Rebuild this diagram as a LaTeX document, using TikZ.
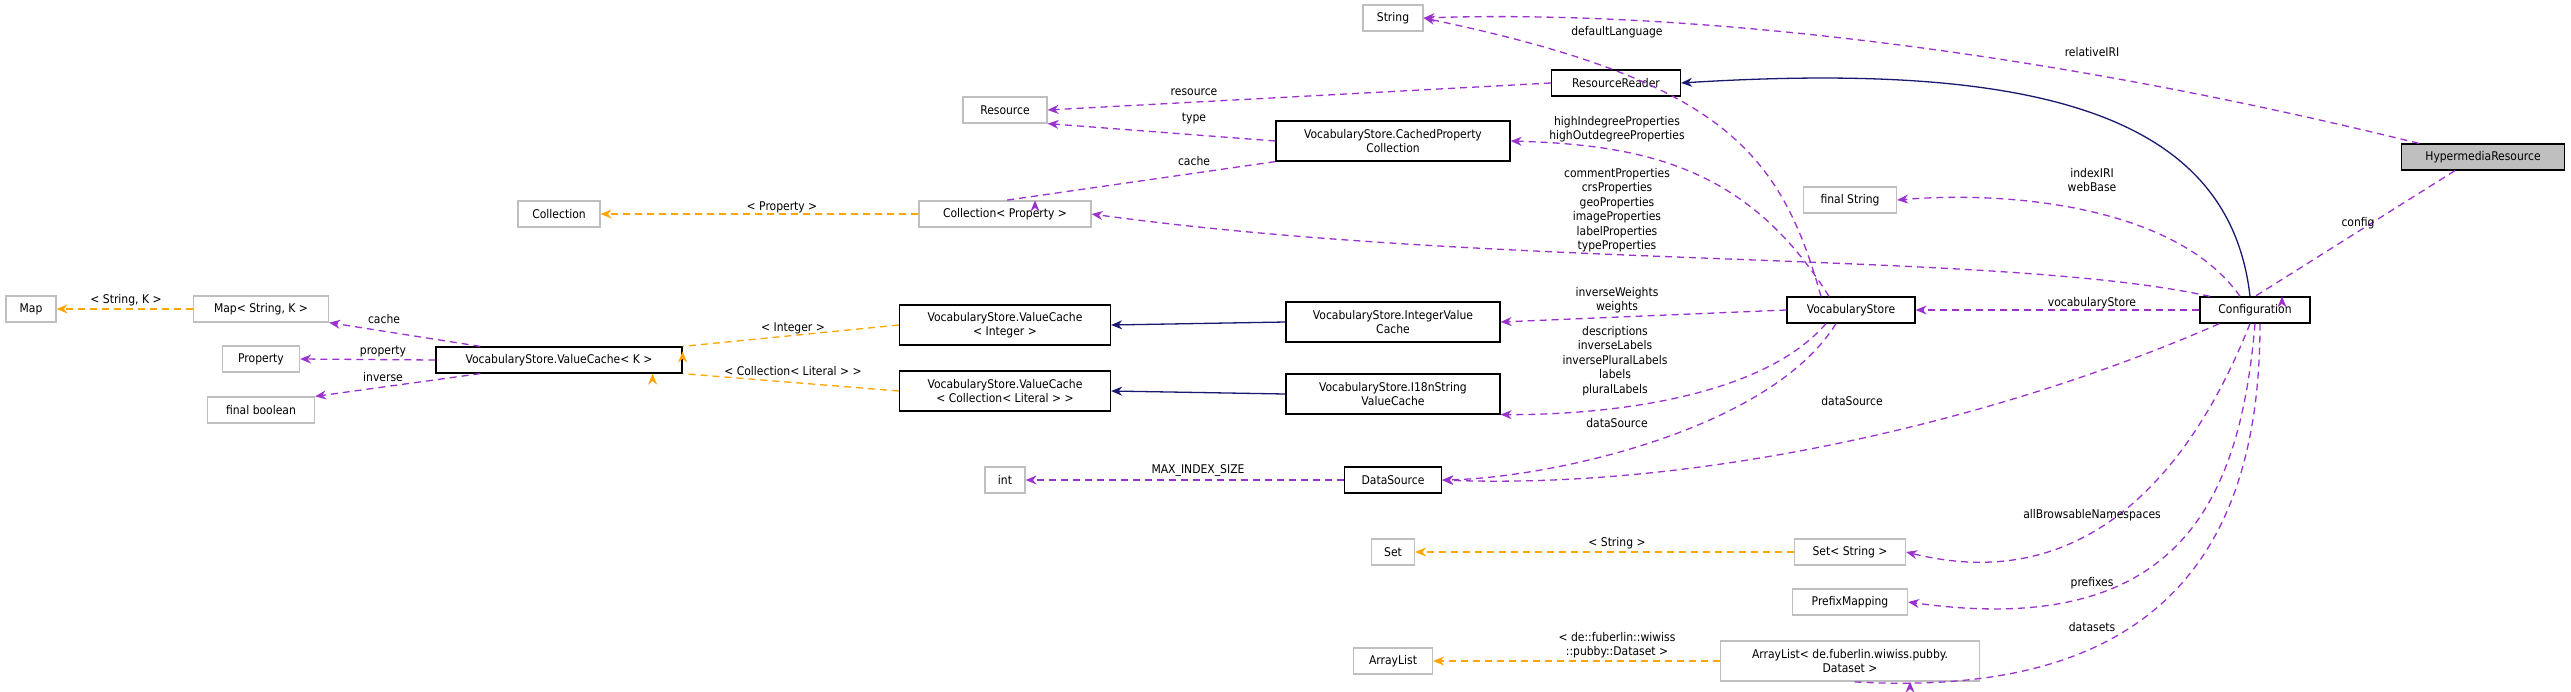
\documentclass[tikz,border=0pt]{standalone}
\usepackage{fontspec}
\setmainfont{DejaVu Sans Condensed}
\usetikzlibrary{arrows.meta}
\definecolor{pur}{HTML}{9A32CD}
\definecolor{org}{HTML}{FFA500}
\definecolor{nav}{HTML}{191970}
\definecolor{gbd}{HTML}{BFBFBF}
\begin{document}
\begin{tikzpicture}[x=1pt,y=-1pt,
 every node/.style={font=\fontsize{12}{14.5}\selectfont},
 box/.style={draw=black,line width=1.2pt,minimum height=26,inner sep=0,align=center},
 gbox/.style={draw=gbd,line width=1.2pt,minimum height=26,inner sep=0,align=center},
 two/.style={minimum height=40},
 mem/.style={pur,dash pattern=on 7pt off 5pt,line width=1.3pt,-{Stealth[length=11pt,width=9pt]}},
 tpl/.style={org,dash pattern=on 7pt off 5pt,line width=1.3pt,-{Stealth[length=11pt,width=9pt]}},
 inh/.style={nav,line width=1.3pt,-{Stealth[length=11pt,width=9pt]}},
 lbl/.style={text=black,align=center,inner sep=1pt}]
\useasboundingbox (0,0) rectangle (2571,691);
% nodes
\node[box,fill=gbd,minimum width=163] (hr) at (2483,157) {HypermediaResource};
\node[box,minimum width=110] (cfg) at (2255,310) {Configuration};
\node[box,minimum width=128] (vs) at (1851,310) {VocabularyStore};
\node[gbox,minimum width=93] (fs) at (1850,200) {final String};
\node[box,minimum width=129] (rr) at (1616,83) {ResourceReader};
\node[gbox,minimum width=60] (str) at (1393,18) {String};
\node[gbox,minimum width=84] (res) at (1005,110) {Resource};
\node[box,two,minimum width=234] (cpc) at (1393,141) {VocabularyStore.CachedProperty\\Collection};
\node[gbox,minimum width=172] (colp) at (1005,214) {Collection< Property >};
\node[gbox,minimum width=82] (col) at (559,214) {Collection};
\node[box,two,minimum width=214] (ivc) at (1393,322) {VocabularyStore.IntegerValue\\Cache};
\node[box,two,minimum width=214] (i18) at (1393,394) {VocabularyStore.I18nString\\ValueCache};
\node[box,two,minimum width=211] (vci) at (1005,325) {VocabularyStore.ValueCache\\< Integer >};
\node[box,two,minimum width=211] (vcc) at (1005,391) {VocabularyStore.ValueCache\\< Collection< Literal > >};
\node[box,minimum width=246] (vck) at (559,360) {VocabularyStore.ValueCache< K >};
\node[gbox,minimum width=135] (msk) at (261,309) {Map< String, K >};
\node[gbox,minimum width=50] (map) at (31,309) {Map};
\node[gbox,minimum width=77] (prop) at (261,359) {Property};
\node[gbox,minimum width=107] (fb) at (261,410) {final boolean};
\node[box,minimum width=97] (ds) at (1393,480) {DataSource};
\node[gbox,minimum width=40] (int) at (1005,480) {int};
\node[gbox,minimum width=43] (set) at (1393,552) {Set};
\node[gbox,minimum width=111] (sets) at (1850,552) {Set< String >};
\node[gbox,minimum width=115] (pm) at (1850,602) {PrefixMapping};
\node[gbox,minimum width=79] (al) at (1393,661) {ArrayList};
\node[gbox,two,minimum width=259] (als) at (1850,661) {ArrayList< de.fuberlin.wiwiss.pubby.\\Dataset >};
% edges
\draw[mem] (hr.north west)+(18,0) .. controls (2000,40) and (1650,10) .. (str.east);
\draw[mem] (hr.south)+(-28,0) -- (cfg.north)+(27,0);
\draw[inh] (cfg.north)+(-5,0) .. controls (2230,120) and (2050,60) .. (rr.east);
\draw[mem] (cfg.north)+(-15,0) .. controls (2180,210) and (2020,190) .. (fs.east);
\draw[mem] (cfg.north)+(-45,0) .. controls (2000,250) and (1500,270) .. (colp.east);
\draw[mem] (cfg.west) -- (vs.east);
\draw[mem] (cfg.south west)+(20,0) .. controls (2000,420) and (1700,490) .. (ds.east);
\draw[mem] (cfg.south)+(-5,0) .. controls (2200,450) and (2100,600) .. (sets.east);
\draw[mem] (cfg.south)+(0,0) .. controls (2240,500) and (2180,640) .. (pm.east);
\draw[mem] (cfg.south)+(5,0) .. controls (2260,560) and (2150,700) .. (als.south)+(60,0);
\draw[mem] (vs.north)+(-30,0) .. controls (1780,150) and (1720,80) .. (str.east);
\draw[mem] (vs.north)+(-22,0) .. controls (1750,170) and (1650,145) .. (cpc.east);
\draw[mem] (vs.west) -- (ivc.east);
\draw[mem] (vs.south)+(-25,0) .. controls (1760,400) and (1600,415) .. (i18.south east);
\draw[mem] (vs.south)+(-15,0) .. controls (1770,430) and (1550,478) .. (ds.east);
\draw[mem] (rr.west) -- (res.east);
\draw[mem] (cpc.west) -- (res.south east);
\draw[mem] (cpc.south west) -- (colp.north)+(30,0);
\draw[tpl] (colp.west) -- (col.east);
\draw[inh] (ivc.west) -- (vci.east);
\draw[inh] (i18.west) -- (vcc.east);
\draw[tpl] (vci.west) -- (vck.north east)+(0,5);
\draw[tpl] (vcc.west) -- (vck.south east)+(-30,0);
\draw[mem] (vck.north west)+(45,0) -- (msk.south east);
\draw[mem] (vck.west) -- (prop.east);
\draw[mem] (vck.south west)+(45,0) -- (fb.north east);
\draw[tpl] (msk.west) -- (map.east);
\draw[mem] (ds.west) -- (int.east);
\draw[tpl] (sets.west) -- (set.east);
\draw[tpl] (als.west) -- (al.east);
% labels
\node[lbl] (l1) at (2092,52) {relativeIRI};
\node[lbl] (l2) at (2358,223) {config};
\node[lbl] (l3) at (2092,180) {indexIRI\\webBase};
\node[lbl] (l4) at (1617,210) {commentProperties\\crsProperties\\geoProperties\\imageProperties\\labelProperties\\typeProperties};
\node[lbl] (l5) at (2092,303) {vocabularyStore};
\node[lbl] (l6) at (1852,401) {dataSource};
\node[lbl] (l7) at (2092,515) {allBrowsableNamespaces};
\node[lbl] (l8) at (2092,583) {prefixes};
\node[lbl] (l9) at (2092,627) {datasets};
\node[lbl] (l10) at (1617,32) {defaultLanguage};
\node[lbl] (l11) at (1617,129) {highIndegreeProperties\\highOutdegreeProperties};
\node[lbl] (l12) at (1617,300) {inverseWeights\\weights};
\node[lbl] (l13) at (1615,361) {descriptions\\inverseLabels\\inversePluralLabels\\labels\\pluralLabels};
\node[lbl] (l14) at (1617,423) {dataSource};
\node[lbl] (l15) at (1194,92) {resource};
\node[lbl] (l16) at (1194,119) {type};
\node[lbl] (l17) at (1194,161) {cache};
\node[lbl] (l18) at (782,207) {< Property >};
\node[lbl] (l19) at (793,328) {< Integer >};
\node[lbl] (l20) at (793,371) {< Collection< Literal > >};
\node[lbl] (l21) at (384,319) {cache};
\node[lbl] (l22) at (383,352) {property};
\node[lbl] (l23) at (383,377) {inverse};
\node[lbl] (l24) at (126,300) {< String, K >};
\node[lbl] (l25) at (1198,470) {MAX\_INDEX\_SIZE};
\node[lbl] (l26) at (1617,543) {< String >};
\node[lbl] (l27) at (1617,645) {< de::fuberlin::wiwiss\\::pubby::Dataset >};
\end{tikzpicture}
\end{document}
